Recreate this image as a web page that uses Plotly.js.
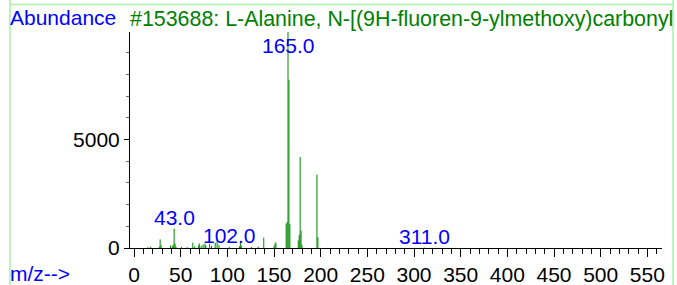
<!DOCTYPE html>
<html>
<head>
<meta charset="utf-8">
<script src="https://cdn.plot.ly/plotly-3.0.1.min.js"></script>
<style>html,body{margin:0;padding:0;background:#fff;}#chart{width:677px;height:285px;}</style>
</head>
<body>
<div id="chart"></div>
<script>
// m/z values and abundances
var mz = [15, 18, 27, 28, 29, 39, 41, 42, 43, 44, 45, 51, 57, 63, 65, 69, 70, 72, 74, 76, 77, 81, 83, 87, 89, 91, 102, 113, 114, 115, 126, 133, 139, 150, 151, 152, 163, 164, 165, 166, 167, 176, 177, 178, 179, 180, 196, 197, 311];
var abundance = [40, 60, 60, 400, 120, 120, 80, 150, 890, 200, 60, 60, 40, 250, 80, 120, 210, 100, 160, 200, 120, 200, 100, 250, 380, 150, 60, 80, 250, 100, 50, 60, 480, 80, 200, 260, 1120, 1200, 9950, 7750, 1100, 350, 600, 4190, 800, 150, 3380, 500, 20];
var labelMz = [43, 102, 165, 311];
var labelText = ["43.0", "102.0", "165.0", "311.0"];
var xTickVals = [0, 50, 100, 150, 200, 250, 300, 350, 400, 450, 500, 550];
var yTickVals = [0, 5000];
var titleText = "#153688: L-Alanine, N-[(9H-fluoren-9-ylmethoxy)carbonyl";

var W = 677, H = 285, L = 130, R = 15, T = 32, B = 37;
var pw = W - L - R, ph = H - T - B;
function px(x) { return (x - L) / pw; }
function py(y) { return (H - B - y) / ph; }

var yMax = 9950;
var xs = [], ys = [];
for (var i = 0; i < mz.length; i++) {
  xs.push(mz[i], mz[i], null);
  ys.push(0, abundance[i], null);
}
var trace = {
  x: xs, y: ys, type: 'scatter', mode: 'lines',
  line: {color: '#008a00', width: 1}, hoverinfo: 'skip', showlegend: false, connectgaps: false
};

var font = "Liberation Sans, Arial, sans-serif";
var fs = 21;
var annotations = [];
for (var j = 0; j < labelMz.length; j++) {
  var v = abundance[mz.indexOf(labelMz[j])];
  var tall = v > 0.9 * yMax;
  annotations.push({
    x: labelMz[j], y: tall ? yMax : v, xref: 'x', yref: 'y',
    text: labelText[j], showarrow: false, xanchor: 'center',
    yanchor: tall ? 'top' : 'bottom', yshift: tall ? 0 : -2,
    font: {family: font, size: fs, color: '#0000ff'}
  });
}
annotations.push({xref: 'paper', yref: 'paper', x: px(8), y: py(18), xanchor: 'left', yanchor: 'middle',
  text: 'Abundance', showarrow: false, font: {family: font, size: fs, color: '#0000ff'}});
annotations.push({xref: 'paper', yref: 'paper', x: px(128), y: py(19), xanchor: 'left', yanchor: 'middle',
  text: titleText, showarrow: false, font: {family: font, size: 21.4, color: '#008000'}});
annotations.push({xref: 'paper', yref: 'paper', x: px(8), y: py(273), xanchor: 'left', yanchor: 'middle',
  text: 'm/z-->', showarrow: false, font: {family: font, size: fs, color: '#0000ff'}});
// white cover past the right border line
annotations.push({xref: 'paper', yref: 'paper', x: px(674), y: py(0), xanchor: 'left', yanchor: 'top',
  text: ' ', showarrow: false, bgcolor: '#ffffff', width: 10, height: 40, borderpad: 0});

var border = '#aaf0aa';
var shapes = [
  {type: 'line', xref: 'paper', yref: 'paper', x0: px(10), x1: px(10), y0: py(0), y1: py(285), line: {color: border, width: 1.5}},
  {type: 'line', xref: 'paper', yref: 'paper', x0: px(673), x1: px(673), y0: py(0), y1: py(285), line: {color: border, width: 1.5}},
  {type: 'line', xref: 'paper', yref: 'paper', x0: px(10), x1: px(673), y0: py(4.5), y1: py(4.5), line: {color: border, width: 1.5}}
];

var layout = {
  width: W, height: H,
  margin: {l: L, r: R, t: T, b: B, pad: 0},
  paper_bgcolor: '#ffffff', plot_bgcolor: '#ffffff',
  showlegend: false,
  xaxis: {
    range: [-4.3, 565.7], showgrid: false, zeroline: false,
    showline: true, linecolor: '#000', linewidth: 1,
    tickmode: 'array', tickvals: xTickVals, ticktext: xTickVals.map(String),
    ticks: 'outside', ticklen: 8, tickcolor: '#000', tickwidth: 1,
    minor: {dtick: 10, tick0: 0, ticks: 'outside', ticklen: 5, tickcolor: '#000', showgrid: false},
    tickfont: {family: font, size: fs, color: '#000'}
  },
  yaxis: {
    range: [0, yMax], showgrid: false, zeroline: false,
    showline: true, linecolor: '#000', linewidth: 1,
    tickmode: 'array', tickvals: yTickVals, ticktext: yTickVals.map(String),
    ticks: 'outside', ticklen: 5, tickcolor: '#000', tickwidth: 1,
    minor: {dtick: 1000, tick0: 0, ticks: 'outside', ticklen: 3, tickcolor: '#666', showgrid: false},
    tickfont: {family: font, size: fs, color: '#000'}
  },
  annotations: annotations,
  shapes: shapes
};

Plotly.newPlot('chart', [trace], layout, {staticPlot: true, displayModeBar: false});
</script>
</body>
</html>
